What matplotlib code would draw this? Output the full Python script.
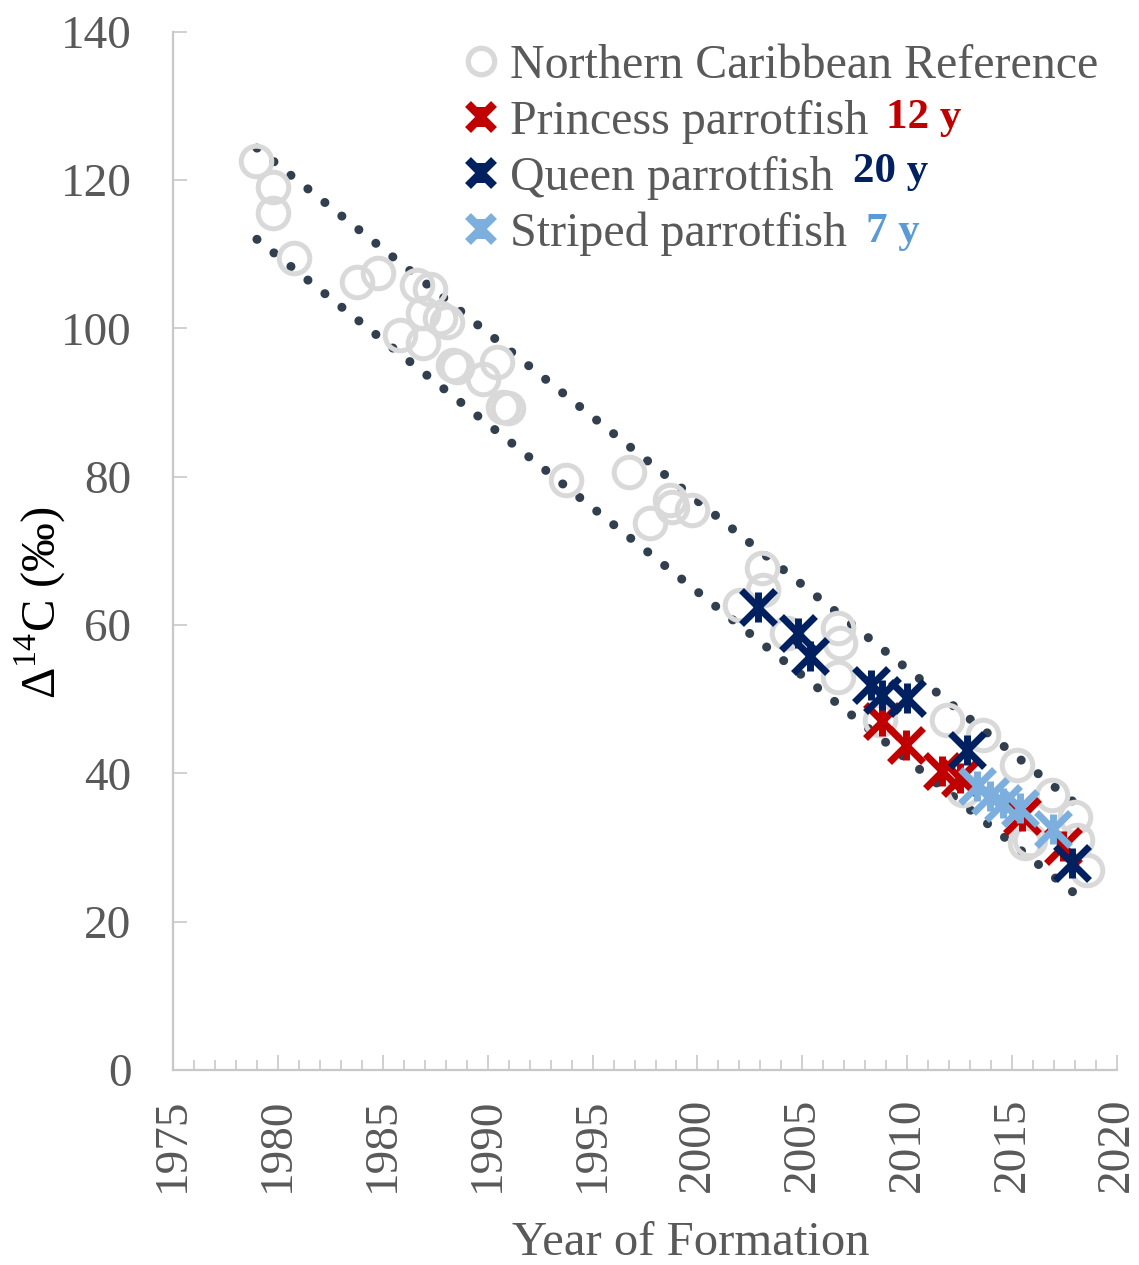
import matplotlib
matplotlib.use("Agg")
import matplotlib.pyplot as plt
from matplotlib.lines import Line2D
from matplotlib.ticker import MultipleLocator

plt.rcParams['font.family'] = ['Liberation Serif', 'DejaVu Serif']
plt.rcParams['mathtext.fontset'] = 'custom'
plt.rcParams['mathtext.rm'] = 'Liberation Serif'

# Northern Caribbean reference (open grey circles)
ref_year = [1978.96, 1979.77, 1979.77, 1980.77, 1983.77, 1984.77, 1986.63, 1987.25,
            1986.92, 1987.73, 1988.06, 1985.82, 1986.92, 1988.35, 1988.54, 1990.44,
            1989.78, 1990.73, 1990.97, 1993.73, 1996.73, 1997.74, 1998.69, 1998.78,
            1999.74, 2003.07, 2003.12, 2002.03, 2004.27, 2006.70, 2006.79, 2006.70,
            2008.70, 2011.89, 2013.61, 2015.23, 2016.90, 2017.99, 2015.85, 2015.61,
            2018.09, 2018.57, 2012.65]
ref_d14c = [122.6, 119.1, 115.6, 109.5, 106.3, 107.5, 105.9, 105.3,
            102.1, 101.4, 100.9, 99.1, 98.0, 95.1, 94.8, 95.5,
            93.1, 89.4, 89.3, 79.6, 80.6, 73.8, 76.9, 75.9,
            75.5, 67.7, 64.7, 62.7, 58.9, 59.6, 57.6, 53.0,
            47.2, 47.2, 45.2, 41.1, 37.1, 34.1, 31.0, 30.6,
            31.0, 27.0, 37.8]

# parrotfish otolith cores
princess_year = [2008.79, 2009.94, 2011.65, 2012.51, 2015.47, 2017.42]
princess_d14c = [47.1, 43.8, 40.3, 39.4, 34.3, 30.2]

queen_year = [2002.88, 2004.79, 2005.36, 2008.27, 2008.79, 2009.99, 2012.85, 2017.85]
queen_d14c = [62.4, 58.9, 55.8, 51.9, 50.6, 50.2, 43.2, 27.9]

striped_year = [2013.32, 2013.94, 2014.56, 2015.37, 2016.94]
striped_d14c = [38.3, 37.0, 36.0, 35.3, 32.5]

# dotted bounds around the reference decline
bound_year = [1979.0, 2018.6]
upper_d14c = [124.3, 34.6]
lower_d14c = [112.0, 22.4]

series = [
    ('Princess parrotfish', princess_year, princess_d14c, '#C00000', '12 y', '#C00000'),
    ('Queen parrotfish', queen_year, queen_d14c, '#002060', '20 y', '#002060'),
    ('Striped parrotfish', striped_year, striped_d14c, '#7CAFDD', '7 y', '#5B9BD5'),
]

grey_txt = '#595959'
axis_col = '#C8C8C8'

fig = plt.figure(figsize=(11.39, 12.65), dpi=100)
ax = fig.add_axes([0.1519, 0.1542, 0.8288, 0.8208])

dots = (0, (0.01, 2.4))
ax.plot(bound_year, upper_d14c, color='#323F4F', lw=6.5, ls=dots,
        dash_capstyle='round', zorder=1)
ax.plot(bound_year, lower_d14c, color='#323F4F', lw=6.5, ls=dots,
        dash_capstyle='round', zorder=1)

ax.plot(ref_year, ref_d14c, ls='none', marker='o', ms=22, mfc='none',
        mec='#D9D9D9', mew=3.6, zorder=2)

handles = [Line2D([], [], ls='none', marker='o', ms=19, mfc='none',
                  mec='#D9D9D9', mew=3.8)]
labels = ['Northern Caribbean Reference']
for name, xs, ys, col, _, _ in series:
    ax.plot(xs, ys, ls='none', marker='x', ms=25, mew=5, mec=col, zorder=3)
    ax.plot(xs, ys, ls='none', marker='|', ms=22, mew=5, mec=col, zorder=3)
    h1 = Line2D([], [], ls='none', marker='x', ms=19, mew=6, mec=col)
    h2 = Line2D([], [], ls='none', marker='|', ms=15, mew=6, mec=col)
    handles.append((h1, h2))
    labels.append(name)

ax.set_xlim(1975, 2020)
ax.set_ylim(0, 140)
ax.xaxis.set_major_locator(MultipleLocator(5))
ax.xaxis.set_minor_locator(MultipleLocator(1))
ax.yaxis.set_major_locator(MultipleLocator(20))

for s in ['top', 'right']:
    ax.spines[s].set_visible(False)
for s in ['left', 'bottom']:
    ax.spines[s].set_color(axis_col)
    ax.spines[s].set_linewidth(1.6)

ax.tick_params(axis='x', which='major', direction='in', length=11, width=1.2,
               color=axis_col, labelsize=34, labelcolor=grey_txt,
               labelrotation=90, pad=20)
ax.tick_params(axis='x', which='minor', direction='in', length=7, width=1.2,
               color=axis_col)
ax.tick_params(axis='y', which='major', direction='in', length=10, width=1.2,
               color=axis_col, labelsize=34, labelcolor=grey_txt, pad=30)

ax.set_xlabel('Year of Formation', fontsize=35, color=grey_txt, labelpad=21)
ax.xaxis.label.set_x(0.549)
ax.set_ylabel(r'$\Delta^{14}$C (‰)', fontsize=35, color='black')
ax.yaxis.set_label_coords(-0.111, 0.45)

leg = ax.legend(handles, labels, loc='upper right', bbox_to_anchor=(1.0, 1.0065),
                frameon=False, fontsize=34.5, handlelength=0.7,
                handletextpad=0.25, labelspacing=0.245, borderaxespad=0.0)
for t in leg.get_texts():
    t.set_color(grey_txt)

# longevity notes beside the legend entries
note_pos = [(0.778, 0.899), (0.749, 0.856), (0.760, 0.809)]
for (name, _, _, _, note, tcol), (fx, fy) in zip(series, note_pos):
    fig.text(fx, fy, note, fontsize=31, fontweight='bold', color=tcol)

fig.savefig('out.png', dpi=100)
